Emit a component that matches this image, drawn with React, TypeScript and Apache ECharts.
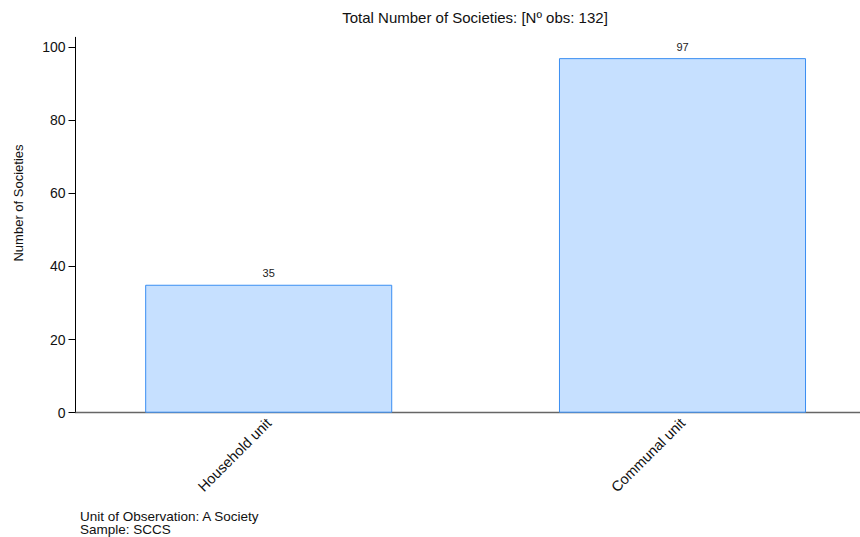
import React, { useEffect, useRef } from "react";
import * as echarts from "echarts";

const categories = ["Household unit", "Communal unit"];
const counts = [35, 97];
const yTicks = [0, 20, 40, 60, 80, 100];
const titleText = "Total Number of Societies: [Nº obs: 132]";
const yAxisTitle = "Number of Societies";
const footerLines = ["Unit of Observation: A Society", "Sample: SCCS"];

const FONT = "'Liberation Sans', Arial, Helvetica, sans-serif";
const Y_MAX = 102.7;

export default function App() {
  const ref = useRef<HTMLDivElement>(null);
  useEffect(() => {
    if (!ref.current) return;
    const chart = echarts.init(ref.current, undefined, { renderer: "svg" });
    const top = 37.3;
    const height = 375.4;
    chart.setOption({
      animation: false,
      backgroundColor: "#ffffff",
      textStyle: { fontFamily: FONT },
      grid: [
        { left: 75.5, width: 784.5, top, height, containLabel: false, outerBoundsMode: "none" },
        { left: 61.8, width: 827.6, top, height, containLabel: false, outerBoundsMode: "none" },
      ],
      xAxis: [
        {
          gridIndex: 0,
          type: "value",
          min: 0,
          max: 1,
          axisLine: { show: true, onZero: false, lineStyle: { color: "#666666", width: 1.3 } },
          axisTick: { show: false },
          axisLabel: { show: false },
          splitLine: { show: false },
        },
        {
          gridIndex: 1,
          type: "category",
          data: categories,
          axisLine: { show: false },
          axisTick: { show: false },
          axisLabel: {
            rotate: 45,
            margin: 8,
            fontSize: 14.5,
            color: "#111111",
            fontFamily: FONT,
          },
        },
      ],
      yAxis: [
        {
          gridIndex: 0,
          type: "value",
          min: 0,
          max: Y_MAX,
          axisLine: { show: true, lineStyle: { color: "#000000", width: 1 } },
          axisTick: {
            show: true,
            length: 7,
            lineStyle: { color: "#000000" },
            customValues: yTicks,
          },
          axisLabel: {
            fontSize: 14,
            color: "#111111",
            margin: 10,
            fontFamily: FONT,
            customValues: yTicks,
          },
          splitLine: { show: false },
        },
        {
          gridIndex: 1,
          type: "value",
          min: 0,
          max: Y_MAX,
          show: false,
        },
      ],
      series: [
        {
          type: "bar",
          xAxisIndex: 1,
          yAxisIndex: 1,
          data: counts,
          barWidth: "59.7%",
          itemStyle: {
            color: "#c6e0ff",
            borderColor: "#3a8ef2",
            borderWidth: 1,
          },
          label: {
            show: true,
            position: "top",
            distance: 6,
            fontSize: 11,
            color: "#222222",
            fontFamily: FONT,
          },
        },
      ],
      graphic: [
        {
          type: "text",
          x: 475,
          y: 17,
          style: {
            text: titleText,
            fontSize: 15,
            fontFamily: FONT,
            fill: "#111111",
            textAlign: "center",
            textVerticalAlign: "middle",
          },
        },
        {
          type: "text",
          x: 18,
          y: 203,
          rotation: Math.PI / 2,
          style: {
            text: yAxisTitle,
            fontSize: 13,
            fontFamily: FONT,
            fill: "#111111",
            textAlign: "center",
            textVerticalAlign: "middle",
          },
        },
        {
          type: "text",
          x: 80,
          y: 516,
          style: {
            text: footerLines[0],
            fontSize: 13.5,
            fontFamily: FONT,
            fill: "#111111",
            textAlign: "left",
            textVerticalAlign: "middle",
          },
        },
        {
          type: "text",
          x: 80,
          y: 529.5,
          style: {
            text: footerLines[1],
            fontSize: 13.5,
            fontFamily: FONT,
            fill: "#111111",
            textAlign: "left",
            textVerticalAlign: "middle",
          },
        },
      ],
    });
    return () => chart.dispose();
  }, []);
  return <div ref={ref} style={{ width: 860, height: 537, position: "absolute", left: 0, top: 0 }} />;
}
